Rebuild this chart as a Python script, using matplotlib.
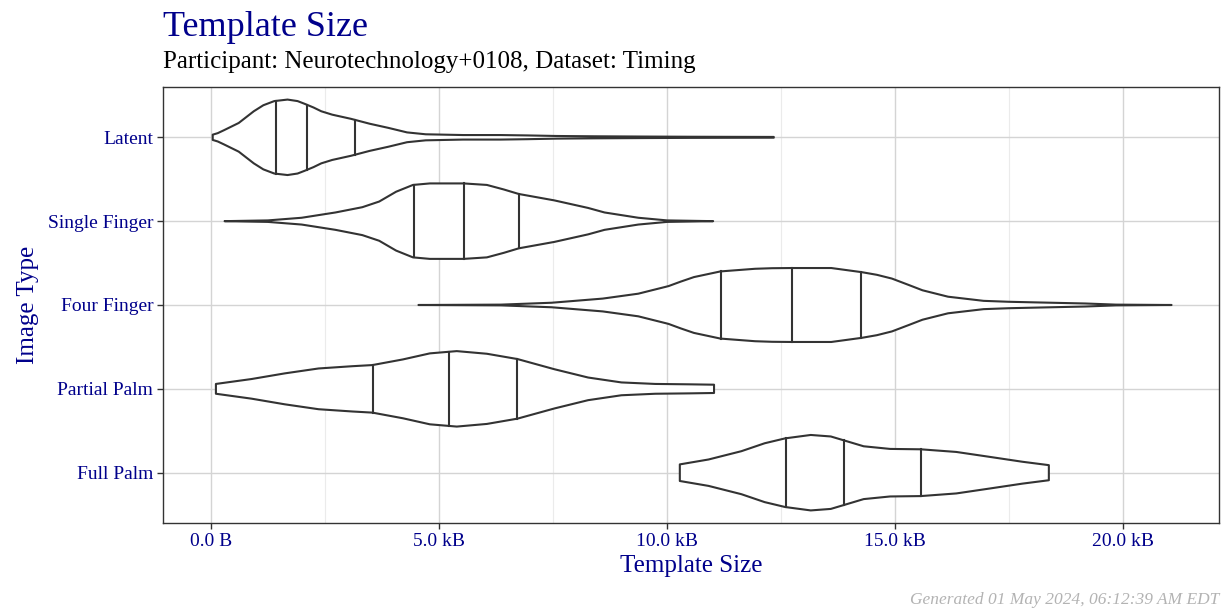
import numpy as np
import matplotlib
matplotlib.use("Agg")
import matplotlib.pyplot as plt

# categories, top to bottom as shown
categories = ["Latent", "Single Finger", "Four Finger", "Partial Palm", "Full Palm"]

# violin outlines: template size (kB) and relative half width (0..1)
latent_x = [0.04, 0.15, 0.29, 0.61, 0.94, 1.15, 1.39, 1.68, 1.90, 2.05, 2.25, 2.42, 2.66,
            3.07, 3.48, 3.89, 4.30, 4.71, 5.53, 6.35, 6.93, 7.58, 8.40, 9.50, 10.5, 11.5, 12.34]
latent_w = [0.07, 0.11, 0.19, 0.38, 0.69, 0.85, 0.96, 1.0, 0.96, 0.89, 0.79, 0.69, 0.60,
            0.49, 0.36, 0.25, 0.13, 0.08, 0.06, 0.06, 0.05, 0.035, 0.027, 0.02, 0.015, 0.012, 0.01]

single_x = [0.30, 1.25, 1.99, 2.73, 3.32, 3.69, 4.06, 4.43, 4.80, 5.54, 6.05, 6.42, 6.75,
            7.53, 8.27, 8.63, 9.37, 10.0, 11.01]
single_w = [0.0, 0.02, 0.09, 0.23, 0.37, 0.52, 0.78, 0.96, 1.0, 1.0, 0.96, 0.84, 0.72,
            0.55, 0.35, 0.23, 0.09, 0.02, 0.0]

four_x = [4.55, 6.36, 7.47, 8.59, 9.37, 10.03, 10.30, 10.59, 11.17, 11.93, 12.30, 12.73,
          13.60, 14.27, 14.60, 14.93, 15.30, 15.60, 16.16, 16.94, 17.50, 18.05, 19.17,
          19.84, 21.06]
four_w = [0.0, 0.01, 0.06, 0.17, 0.30, 0.50, 0.62, 0.74, 0.89, 0.96, 0.975, 0.98,
          0.98, 0.87, 0.80, 0.70, 0.53, 0.39, 0.22, 0.11, 0.085, 0.07, 0.04,
          0.01, 0.0]

partial_x = [0.11, 0.89, 1.62, 2.36, 3.10, 3.54, 4.21, 4.80, 5.39, 6.05, 6.72, 7.53,
             8.27, 9.00, 9.74, 10.48, 11.03]
partial_w = [0.13, 0.26, 0.41, 0.54, 0.60, 0.63, 0.78, 0.94, 1.0, 0.93, 0.79, 0.52,
             0.30, 0.17, 0.13, 0.12, 0.11]

full_x = [10.28, 10.91, 11.63, 12.14, 12.59, 13.15, 13.59, 13.84, 14.31, 14.89, 15.56,
          16.34, 17.07, 17.79, 18.37]
full_w = [0.22, 0.35, 0.57, 0.78, 0.91, 1.0, 0.96, 0.87, 0.70, 0.63, 0.62,
          0.55, 0.42, 0.29, 0.20]

# 25/50/75 % quantile lines (kB)
latent_q = [1.43, 2.10, 3.17]
single_q = [4.45, 5.54, 6.76]
four_q = [11.19, 12.74, 14.26]
partial_q = [3.56, 5.23, 6.72]
full_q = [12.61, 13.87, 15.57]

xtick_values = [0, 5, 10, 15, 20]
xtick_labels = ["0.0 B", "5.0 kB", "10.0 kB", "15.0 kB", "20.0 kB"]

profiles = [
    (latent_x, latent_w, latent_q),
    (single_x, single_w, single_q),
    (four_x, four_w, four_q),
    (partial_x, partial_w, partial_q),
    (full_x, full_w, full_q),
]

BLUE = "#00008B"
LINE = "#333333"

plt.rcParams["font.family"] = "Liberation Serif"

fig = plt.figure(figsize=(12.21, 6.11), dpi=100)
ax = fig.add_axes([163 / 1221, 1 - 523 / 611, 1056 / 1221, 436 / 611])

n = len(categories)
half = 0.45
for i, (xs, ws, qs) in enumerate(profiles):
    pos = n - i
    xs = np.array(xs)
    ws = np.array(ws) * half
    px = np.concatenate([xs, xs[::-1]])
    py = np.concatenate([pos + ws, (pos - ws)[::-1]])
    ax.fill(px, py, facecolor="white", edgecolor=LINE, linewidth=1.5,
            joinstyle="round", zorder=3)
    for q in qs:
        w = np.interp(q, xs, ws)
        ax.plot([q, q], [pos - w, pos + w], color=LINE, linewidth=1.5, zorder=4)

ax.set_xlim(-1.05, 22.1)
ax.set_ylim(0.4, n + 0.6)

ax.set_xticks(xtick_values)
ax.set_xticklabels(xtick_labels)
ax.set_xticks([2.5, 7.5, 12.5, 17.5], minor=True)
ax.set_yticks(range(n, 0, -1))
ax.set_yticklabels(categories)

ax.grid(True, which="major", color="#d4d4d4", linewidth=1.0, zorder=0)
ax.grid(True, which="minor", axis="x", color="#ebebeb", linewidth=0.8, zorder=0)
ax.set_axisbelow(True)

for s in ax.spines.values():
    s.set_color(LINE)
    s.set_linewidth(1.0)

ax.tick_params(axis="both", which="major", length=4, width=1.0, color=LINE,
               labelcolor=BLUE, labelsize=14, pad=3)
ax.tick_params(axis="both", which="minor", length=0)

ax.set_xlabel("Template Size", color=BLUE, fontsize=18, labelpad=4)
ax.set_ylabel("Image Type", color=BLUE, fontsize=18, labelpad=6)

fig.text(163 / 1221, 1 - 36 / 611, "Template Size", color=BLUE, fontsize=26,
         ha="left", va="baseline")
fig.text(163 / 1221, 1 - 68 / 611, "Participant: Neurotechnology+0108, Dataset: Timing",
         color="black", fontsize=18, ha="left", va="baseline")
fig.text(1219 / 1221, 1 - 604 / 611, "Generated 01 May 2024, 06:12:39 AM EDT",
         color="#b3b3b3", fontsize=12.5, style="italic", ha="right", va="baseline")

fig.savefig("out.png", dpi=100)
